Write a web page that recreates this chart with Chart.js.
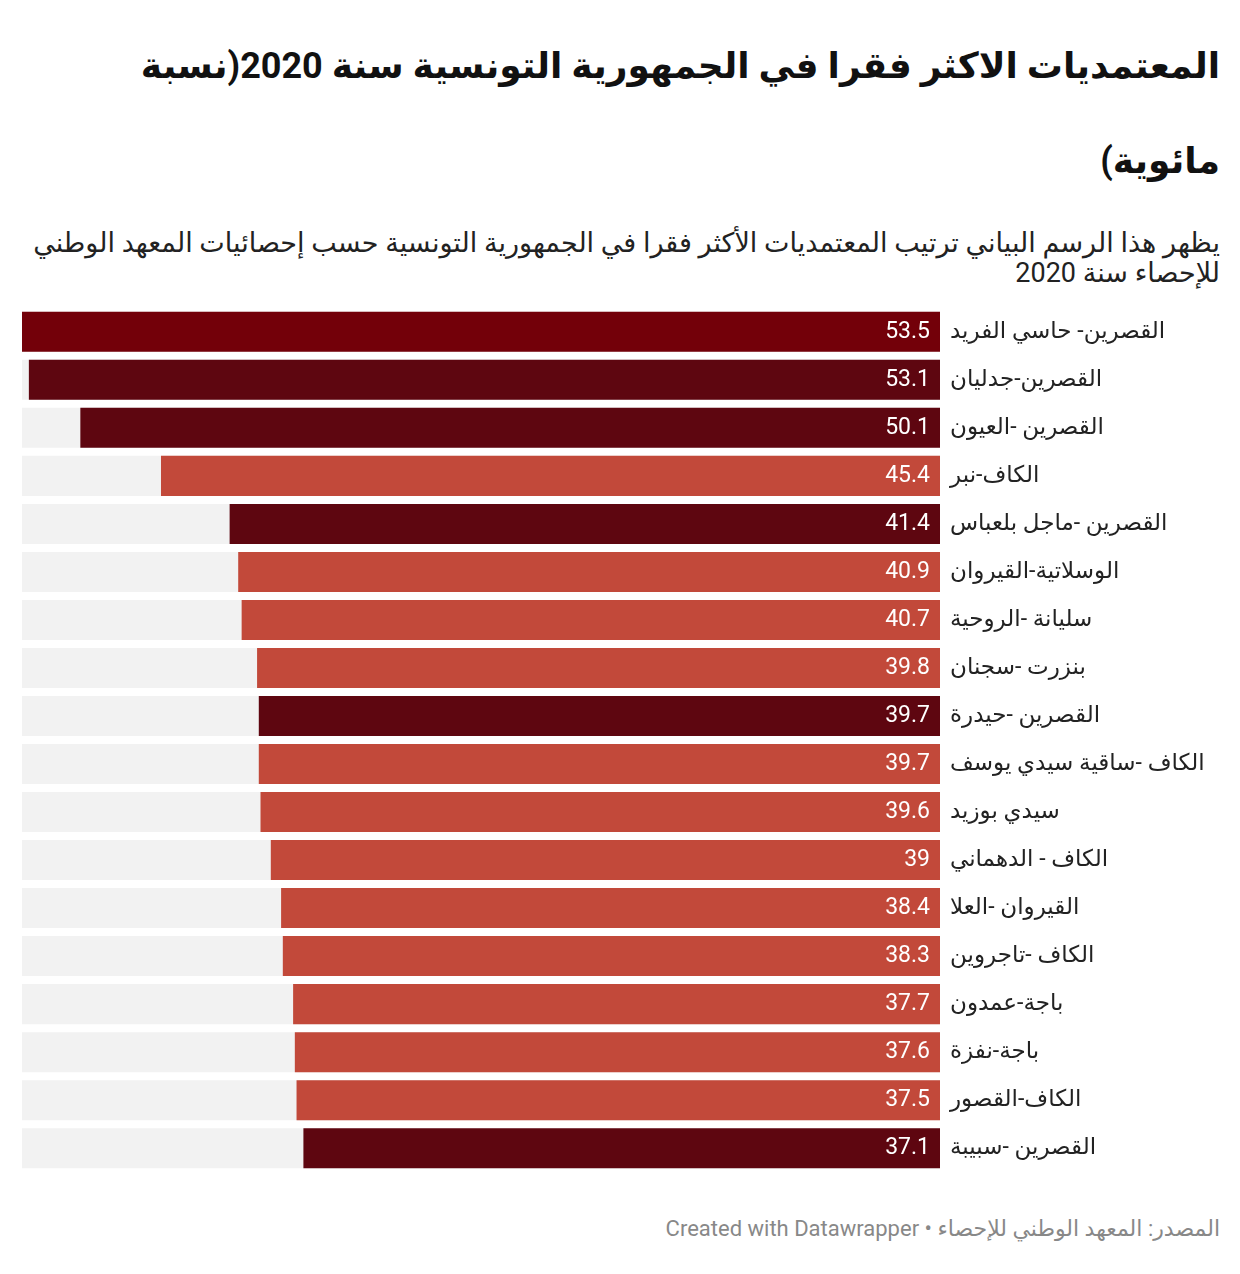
<!DOCTYPE html>
<html>
<head>
<meta charset="utf-8">
<script src="https://cdn.jsdelivr.net/npm/chart.js@4"></script>
<style>
  body { margin: 0; background: #fff; width: 1240px; height: 1274px; position: relative; font-family: Roboto, "Noto Sans", "DejaVu Sans", sans-serif; }
  .title { position: absolute; top: 19px; right: 20px; width: 1200px; direction: rtl; text-align: right; font-weight: bold; font-size: 36px; line-height: 95px; color: #111; }
  .subtitle { position: absolute; top: 228px; right: 20px; width: 1200px; direction: rtl; text-align: right; font-size: 27px; line-height: 30px; color: #222; }
  .chart { position: absolute; left: 0; top: 284px; width: 1240px; height: 912px; }
  .footer { position: absolute; top: 1216px; right: 20px; direction: rtl; font-size: 22px; color: #888; }
</style>
</head>
<body>
<div class="title">المعتمديات الاكثر فقرا في الجمهورية التونسية سنة 2020(نسبة<br>مائوية)</div>
<div class="subtitle">يظهر هذا الرسم البياني ترتيب المعتمديات الأكثر فقرا في الجمهورية التونسية حسب إحصائيات المعهد الوطني<br>للإحصاء سنة 2020</div>
<div class="chart"><canvas id="povertyChart" dir="rtl"></canvas></div>
<div class="footer">المصدر: المعهد الوطني للإحصاء • <span dir="ltr">Created with Datawrapper</span></div>
<script>
const delegations = [
  'القصرين- حاسي الفريد', 'القصرين-جدليان', 'القصرين -العيون', 'الكاف-نبر',
  'القصرين -ماجل بلعباس', 'الوسلاتية-القيروان', 'سليانة -الروحية', 'بنزرت -سجنان',
  'القصرين -حيدرة', 'الكاف -ساقية سيدي يوسف', 'سيدي بوزيد', 'الكاف - الدهماني',
  'القيروان -العلا', 'الكاف -تاجروين', 'باجة-عمدون', 'باجة-نفزة',
  'الكاف-القصور', 'القصرين -سبيبة'
];
const povertyRates = [53.5, 53.1, 50.1, 45.4, 41.4, 40.9, 40.7, 39.8, 39.7, 39.7, 39.6, 39, 38.4, 38.3, 37.7, 37.6, 37.5, 37.1];
const barColors = [
  '#730009', '#5e0610', '#5e0610', '#c2493a', '#5e0610', '#c2493a', '#c2493a', '#c2493a',
  '#5e0610', '#c2493a', '#c2493a', '#c2493a', '#c2493a', '#c2493a', '#c2493a', '#c2493a',
  '#c2493a', '#5e0610'
];

const maxRate = Math.max(...povertyRates);

// white value labels drawn at the bar base (right side)
const valueLabels = {
  id: 'valueLabels',
  afterDatasetsDraw(chart) {
    const ctx = chart.ctx;
    const meta = chart.getDatasetMeta(1);
    const xScale = chart.scales.x;
    ctx.save();
    ctx.direction = 'ltr';
    ctx.font = '23px Roboto, sans-serif';
    ctx.fillStyle = '#fff';
    ctx.textAlign = 'right';
    ctx.textBaseline = 'middle';
    meta.data.forEach((bar, i) => {
      ctx.fillText(String(povertyRates[i]), xScale.getPixelForValue(0) - 10, bar.y);
    });
    ctx.restore();
  }
};

const ctx = document.getElementById('povertyChart').getContext('2d');
new Chart(ctx, {
  type: 'bar',
  data: {
    labels: delegations,
    datasets: [
      {
        label: 'bg',
        data: povertyRates.map(() => maxRate),
        backgroundColor: '#f2f2f2',
        grouped: false,
        order: 2
      },
      {
        label: 'rate',
        data: povertyRates,
        backgroundColor: barColors,
        grouped: false,
        order: 1
      }
    ]
  },
  options: {
    indexAxis: 'y',
    responsive: true,
    maintainAspectRatio: false,
    animation: false,
    categoryPercentage: 1,
    barPercentage: 40 / 48,
    layout: { padding: { left: 22, top: 0, bottom: 0, right: 0 } },
    plugins: {
      legend: { display: false },
      tooltip: { enabled: false }
    },
    scales: {
      x: {
        display: false,
        reverse: true,
        min: 0,
        max: maxRate
      },
      y: {
        position: 'right',
        grid: { display: false, drawTicks: false },
        border: { display: false },
        ticks: {
          padding: 10,
          color: '#222',
          font: { size: 23, family: 'Roboto, "Noto Sans", "DejaVu Sans", sans-serif' }
        },
        afterFit(axis) { axis.width = 300; }
      }
    }
  },
  plugins: [valueLabels]
});
</script>
</body>
</html>
